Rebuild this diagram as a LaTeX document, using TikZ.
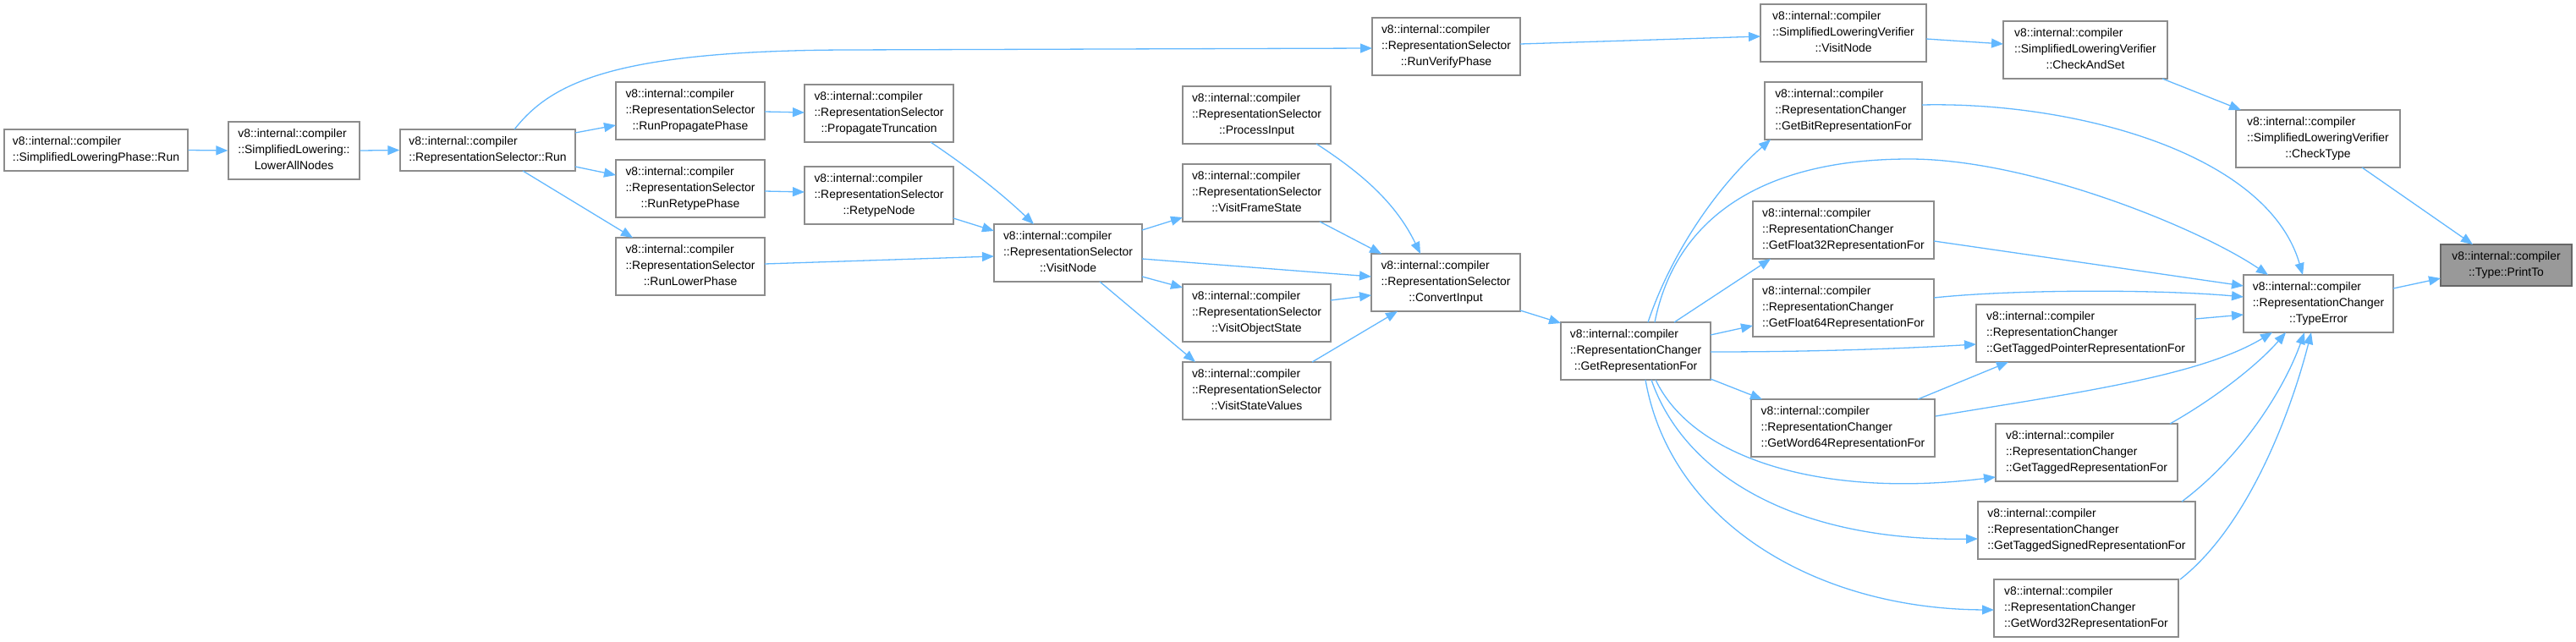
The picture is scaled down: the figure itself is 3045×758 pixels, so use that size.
\documentclass[tikz,border=0pt]{standalone}
\usepackage{fontspec}
\setmainfont{Liberation Sans}
\usetikzlibrary{arrows.meta,calc}
\definecolor{edgecol}{HTML}{63B8FF}
\definecolor{bordercol}{HTML}{8C8C8C}
\definecolor{hifill}{HTML}{999999}
\definecolor{hiborder}{HTML}{666666}
\newcommand\threel[3]{\begin{tabular}{@{}l@{}}#1\\#2\\\multicolumn{1}{@{}c@{}}{#3}\end{tabular}}
\newcommand\twol[2]{\begin{tabular}{@{}l@{}}#1\\\multicolumn{1}{@{}c@{}}{#2}\end{tabular}}
\begin{document}
\begin{tikzpicture}[x=1pt,y=-1pt,
  nbox/.style={draw=bordercol,line width=1.3pt,fill=white,inner sep=0pt,minimum height=68pt,
    font=\fontsize{13.9}{19}\selectfont},
  hibox/.style={nbox,fill=hifill,draw=hiborder},
  cedge/.style={draw=edgecol,line width=1.3pt,-{Triangle[length=14pt,width=11pt]}}]
\useasboundingbox (0,0) rectangle (3045,758);
\def\VIC{v8::internal::compiler}
% nodes
\node[nbox,minimum width=217pt,minimum height=49pt] (slprun) at (113.5,177.5) {\twol{\VIC}{::SimplifiedLoweringPhase::Run}};
\node[nbox,minimum width=155pt] (lower) at (347.5,178) {\threel{\VIC}{::SimplifiedLowering::}{LowerAllNodes}};
\node[nbox,minimum width=207pt,minimum height=49pt] (rsrun) at (576.5,177.5) {\twol{\VIC}{::RepresentationSelector::Run}};
\node[nbox,minimum width=176pt] (rpp) at (816,131) {\threel{\VIC}{::RepresentationSelector}{::RunPropagatePhase}};
\node[nbox,minimum width=176pt] (ptr) at (1039,134) {\threel{\VIC}{::RepresentationSelector}{::PropagateTruncation}};
\node[nbox,minimum width=176pt] (rrp) at (816,223) {\threel{\VIC}{::RepresentationSelector}{::RunRetypePhase}};
\node[nbox,minimum width=176pt] (rtn) at (1039,231) {\threel{\VIC}{::RepresentationSelector}{::RetypeNode}};
\node[nbox,minimum width=176pt] (rlp) at (816,315) {\threel{\VIC}{::RepresentationSelector}{::RunLowerPhase}};
\node[nbox,minimum width=175pt] (rsvn) at (1262.5,299) {\threel{\VIC}{::RepresentationSelector}{::VisitNode}};
\node[nbox,minimum width=175pt] (rvp) at (1709.5,55) {\threel{\VIC}{::RepresentationSelector}{::RunVerifyPhase}};
\node[nbox,minimum width=175pt] (pin) at (1485.5,136) {\threel{\VIC}{::RepresentationSelector}{::ProcessInput}};
\node[nbox,minimum width=175pt] (vfs) at (1485.5,228) {\threel{\VIC}{::RepresentationSelector}{::VisitFrameState}};
\node[nbox,minimum width=176pt] (cin) at (1709,334) {\threel{\VIC}{::RepresentationSelector}{::ConvertInput}};
\node[nbox,minimum width=175pt] (vos) at (1485.5,370) {\threel{\VIC}{::RepresentationSelector}{::VisitObjectState}};
\node[nbox,minimum width=175pt] (vsv) at (1485.5,462) {\threel{\VIC}{::RepresentationSelector}{::VisitStateValues}};
\node[nbox,minimum width=177pt] (grf) at (1933.5,415) {\threel{\VIC}{::RepresentationChanger}{::GetRepresentationFor}};
\node[nbox,minimum width=196pt] (slvvn) at (2179,39) {\threel{\VIC}{::SimplifiedLoweringVerifier}{::VisitNode}};
\node[nbox,minimum width=194pt] (cas) at (2465,59) {\threel{\VIC}{::SimplifiedLoweringVerifier}{::CheckAndSet}};
\node[nbox,minimum width=194pt] (cty) at (2740,164) {\threel{\VIC}{::SimplifiedLoweringVerifier}{::CheckType}};
\node[nbox,minimum width=186pt] (bit) at (2179,131) {\threel{\VIC}{::RepresentationChanger}{::GetBitRepresentationFor}};
\node[nbox,minimum width=214pt] (f32) at (2179,272) {\threel{\VIC}{::RepresentationChanger}{::GetFloat32RepresentationFor}};
\node[nbox,minimum width=214pt] (f64) at (2179,364) {\threel{\VIC}{::RepresentationChanger}{::GetFloat64RepresentationFor}};
\node[nbox,minimum width=259pt] (tpr) at (2465.5,394) {\threel{\VIC}{::RepresentationChanger}{::GetTaggedPointerRepresentationFor}};
\node[nbox,minimum width=217pt] (w64) at (2178.5,506) {\threel{\VIC}{::RepresentationChanger}{::GetWord64RepresentationFor}};
\node[nbox,minimum width=215pt] (tag) at (2466.5,535) {\threel{\VIC}{::RepresentationChanger}{::GetTaggedRepresentationFor}};
\node[nbox,minimum width=257pt] (tsg) at (2466.5,627) {\threel{\VIC}{::RepresentationChanger}{::GetTaggedSignedRepresentationFor}};
\node[nbox,minimum width=218pt] (w32) at (2466,719) {\threel{\VIC}{::RepresentationChanger}{::GetWord32RepresentationFor}};
\node[nbox,minimum width=177pt] (ter) at (2740.5,359) {\threel{\VIC}{::RepresentationChanger}{::TypeError}};
\node[hibox,minimum width=155pt,minimum height=49pt] (pto) at (2962.5,313.5) {\twol{\VIC}{::Type::PrintTo}};
% edges
\draw[cedge] (slprun.east) -- (lower.west);
\draw[cedge] (lower.east) -- (rsrun.west);
\draw[cedge] ($(rsrun)+(103.5,-20.5)$) -- ($(rpp)+(-88,17)$);
\draw[cedge] ($(rsrun)+(103.5,19.5)$) -- ($(rrp)+(-88,-16)$);
\draw[cedge] ($(rsrun)+(41.5,24.5)$) -- ($(rlp)+(-68,-34)$);
\draw[cedge] ($(rsrun)+(31.5,-24.5)$) .. controls (650,100) and (720,60) .. (1000,59) -- ($(rvp)+(-87.5,2)$);
\draw[cedge] ($(rpp)+(88,1)$) -- ($(ptr)+(-88,-1)$);
\draw[cedge] ($(rrp)+(88,3)$) -- ($(rtn)+(-88,-4)$);
\draw[cedge] ($(ptr)+(61,34)$) .. controls (1140,195) and (1180,225) .. ($(rsvn)+(-40.5,-34)$);
\draw[cedge] ($(rtn)+(88,27)$) -- ($(rsvn)+(-87.5,-26)$);
\draw[cedge] ($(rlp)+(88,-3)$) -- ($(rsvn)+(-87.5,4)$);
\draw[cedge] ($(rsvn)+(87.5,-27)$) -- ($(vfs)+(-87.5,29)$);
\draw[cedge] ($(rsvn)+(87.5,7)$) -- ($(cin)+(-88,-7)$);
\draw[cedge] ($(rsvn)+(87.5,28)$) -- ($(vos)+(-87.5,-30)$);
\draw[cedge] ($(rsvn)+(37.5,34)$) -- ($(vsv)+(-72.5,-34)$);
\draw[cedge] ($(pin)+(70.5,34)$) .. controls (1610,205) and (1650,240) .. ($(cin)+(-30,-34)$);
\draw[cedge] ($(vfs)+(74.5,34)$) -- ($(cin)+(-76,-34)$);
\draw[cedge] ($(vos)+(87.5,-15)$) -- ($(cin)+(-88,15)$);
\draw[cedge] ($(vsv)+(65.5,-34)$) -- ($(cin)+(-57,34)$);
\draw[cedge] ($(cin)+(88,33)$) -- ($(grf)+(-88.5,-33)$);
\draw[cedge] ($(rvp)+(87.5,-3)$) -- ($(slvvn)+(-98,4)$);
\draw[cedge] ($(slvvn)+(98,7)$) -- ($(cas)+(-97,-7)$);
\draw[cedge] ($(cas)+(91,34)$) -- ($(cty)+(-91,-34)$);
\draw[cedge] ($(cty)+(52,34)$) -- ($(pto)+(-39.5,-24.5)$);
\draw[cedge] ($(ter)+(88.5,-18)$) -- ($(pto)+(-77.5,15.5)$);
\draw[cedge] ($(bit)+(93,-7)$) .. controls (2450,120) and (2680,180) .. ($(ter)+(-18.5,-34)$);
\draw[cedge] ($(grf)+(14.5,-34)$) .. controls (1975,300) and (2030,220) .. ($(bit)+(-86,34)$);
\draw[cedge] ($(grf)+(22.5,-34)$) .. controls (1980,260) and (2080,188) .. (2257,188) .. controls (2400,188) and (2600,270) .. ($(ter)+(-59.5,-34)$);
\draw[cedge] ($(grf)+(45.5,-34)$) -- ($(f32)+(-86,34)$);
\draw[cedge] ($(grf)+(88.5,-19)$) -- ($(f64)+(-107,21)$);
\draw[cedge] ($(grf)+(88.5,1)$) .. controls (2150,416) and (2250,412) .. ($(tpr)+(-129.5,13)$);
\draw[cedge] ($(grf)+(88.5,33)$) -- ($(w64)+(-95.5,-34)$);
\draw[cedge] ($(f32)+(107,13)$) -- ($(ter)+(-88.5,-21)$);
\draw[cedge] ($(f64)+(107,-12)$) .. controls (2380,342) and (2550,342) .. ($(ter)+(-88.5,-8)$);
\draw[cedge] ($(tpr)+(129.5,-17)$) -- ($(ter)+(-88.5,13)$);
\draw[cedge] ($(w64)+(88.5,-34)$) -- ($(tpr)+(-91.5,34)$);
\draw[cedge] ($(w64)+(109.5,-14)$) .. controls (2450,465) and (2600,445) .. ($(ter)+(-54.5,34)$);
\draw[cedge] ($(grf)+(23.5,34)$) .. controls (2000,540) and (2150,590) .. ($(tag)+(-107.5,29)$);
\draw[cedge] ($(grf)+(18.5,34)$) .. controls (1990,560) and (2120,640) .. ($(tsg)+(-128.5,10)$);
\draw[cedge] ($(grf)+(11.5,34)$) .. controls (1975,620) and (2150,720) .. ($(w32)+(-109,2)$);
\draw[cedge] ($(tag)+(98.5,-34)$) .. controls (2620,470) and (2670,430) .. ($(ter)+(-38.5,34)$);
\draw[cedge] ($(tsg)+(112.5,-34)$) .. controls (2650,540) and (2700,460) .. ($(ter)+(-16.5,34)$);
\draw[cedge] ($(w32)+(111,-34)$) .. controls (2660,620) and (2710,480) .. ($(ter)+(-8.5,34)$);
\end{tikzpicture}
\end{document}
